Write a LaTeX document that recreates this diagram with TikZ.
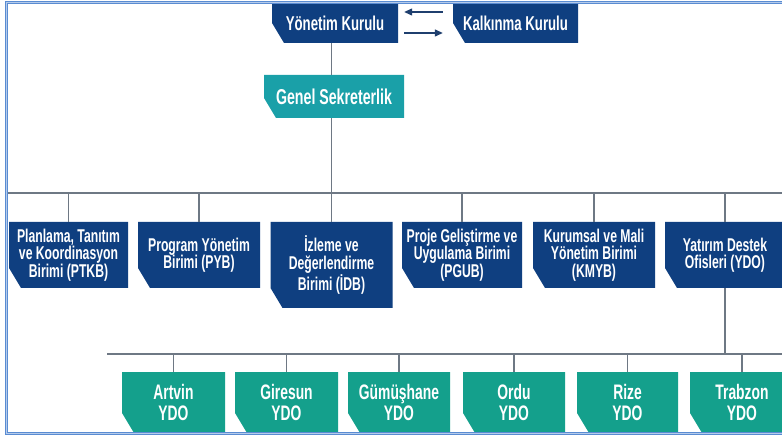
\documentclass[tikz,border=0pt]{standalone}
\usepackage{fontspec}
\setmainfont{Liberation Sans}[FakeStretch=0.66]
\usetikzlibrary{arrows.meta}
\definecolor{navy}{HTML}{0F3F80}
\definecolor{gsteal}{HTML}{1AA0A8}
\definecolor{ydoteal}{HTML}{14A08C}
\definecolor{lineg}{HTML}{6E7884}
\definecolor{frameblue}{HTML}{5A8CD2}
\definecolor{arrowc}{HTML}{1F3F6E}
\tikzset{
  cbox/.style={inner sep=0pt, text=white, align=center,
    path picture={\fill[#1] (path picture bounding box.north west) -- (path picture bounding box.north east)
      -- (path picture bounding box.south east) -- ([xshift=12pt]path picture bounding box.south west)
      -- ([yshift=20pt]path picture bounding box.south west) -- cycle;}},
  topbox/.style={cbox=navy, font=\bfseries\fontsize{20}{20}\selectfont, minimum height=40pt},
  gsbox/.style={cbox=gsteal, font=\bfseries\fontsize{21.5}{22}\selectfont, minimum height=43pt, minimum width=140pt},
  unitbox/.style={cbox=navy, font=\bfseries\fontsize{18.5}{17.5}\selectfont, minimum height=66pt},
  ydobox/.style={cbox=ydoteal, font=\bfseries\fontsize{21}{21.5}\selectfont, minimum height=61pt},
  conn/.style={draw=lineg, line width=1.2pt},
  arr/.style={draw=arrowc, line width=1.3pt, -{Triangle[length=8pt,width=7pt]}},
}
\begin{document}
\begin{tikzpicture}[x=1pt,y=-1pt]
\useasboundingbox (0,0) rectangle (782,438);
\clip (0,0) rectangle (782,438);
\fill[white] (0,0) rectangle (782,438);
% top
\node[topbox, minimum width=126pt] (yk) at (335,23) {Yönetim Kurulu};
\node[topbox, minimum width=125pt] (kk) at (515.5,23) {Kalkınma Kurulu};
\node[gsbox] (gs) at (334,96.5) {Genel Sekreterlik};
% row 2
\node[unitbox, minimum width=119pt] (ptkb) at (68.5,255) {Planlama, Tanıtım\\ve Koordinasyon\\Birimi (PTKB)};
\node[unitbox, minimum width=122pt] (pyb) at (199,255) {Program Yönetim\\Birimi (PYB)};
\node[unitbox, minimum width=122pt, minimum height=86pt] (idb) at (331.5,265) {İzleme ve\\Değerlendirme\\Birimi (İDB)};
\node[unitbox, minimum width=120pt] (pgub) at (462,255) {Proje Geliştirme ve\\Uygulama Birimi\\(PGUB)};
\node[unitbox, minimum width=122pt] (kmyb) at (594,255) {Kurumsal ve Mali\\Yönetim Birimi\\(KMYB)};
\node[unitbox, minimum width=120pt] (ydo) at (725,255) {Yatırım Destek\\Ofisleri (YDO)};
% row 3
\node[ydobox, minimum width=103pt] (artvin) at (173.5,402.5) {Artvin\\YDO};
\node[ydobox, minimum width=103pt] (giresun) at (286.5,402.5) {Giresun\\YDO};
\node[ydobox, minimum width=102pt] (gumus) at (399,402.5) {Gümüşhane\\YDO};
\node[ydobox, minimum width=102pt] (ordu) at (514,402.5) {Ordu\\YDO};
\node[ydobox, minimum width=101pt] (rize) at (627.5,402.5) {Rize\\YDO};
\node[ydobox, minimum width=104pt] (trabzon) at (742,402.5) {Trabzon\\YDO};
% buses
\coordinate (b1l) at (6,193);
\coordinate (b1r) at (790,193);
\coordinate (b2l) at (107,354);
\coordinate (b2r) at (790,354);
\draw[conn] (b1l) -- (b1r);
\draw[conn] (b2l) -- (b2r);
% connectors
\draw[conn] (yk.south -| idb.north) -- (gs.north -| idb.north);
\draw[conn] (gs.south -| idb.north) -- (idb.north);
\foreach \n in {ptkb,pyb,pgub,kmyb,ydo}{\draw[conn] (b1l -| \n.north) -- (\n.north);}
\draw[conn] (ydo.south) -- (b2l -| ydo.south);
\foreach \n in {artvin,giresun,gumus,ordu,rize,trabzon}{\draw[conn] (b2l -| \n.north) -- (\n.north);}
% arrows
\draw[arr] ([xshift=-10pt,yshift=11pt]kk.west) -- ([xshift=6pt,yshift=11pt]yk.east);
\draw[arr] ([xshift=6pt,yshift=-10pt]yk.east) -- ([xshift=-10pt,yshift=-10pt]kk.west);
% frame
\draw[frameblue, line width=2.6pt] (790,2.5) -- (6.5,2.5) -- (6.5,433.5) -- (790,433.5);
\draw[frameblue!45, line width=0.8pt] (790,2.5) -- (6.5,2.5) -- (6.5,433.5) -- (790,433.5);
\end{tikzpicture}
\end{document}
